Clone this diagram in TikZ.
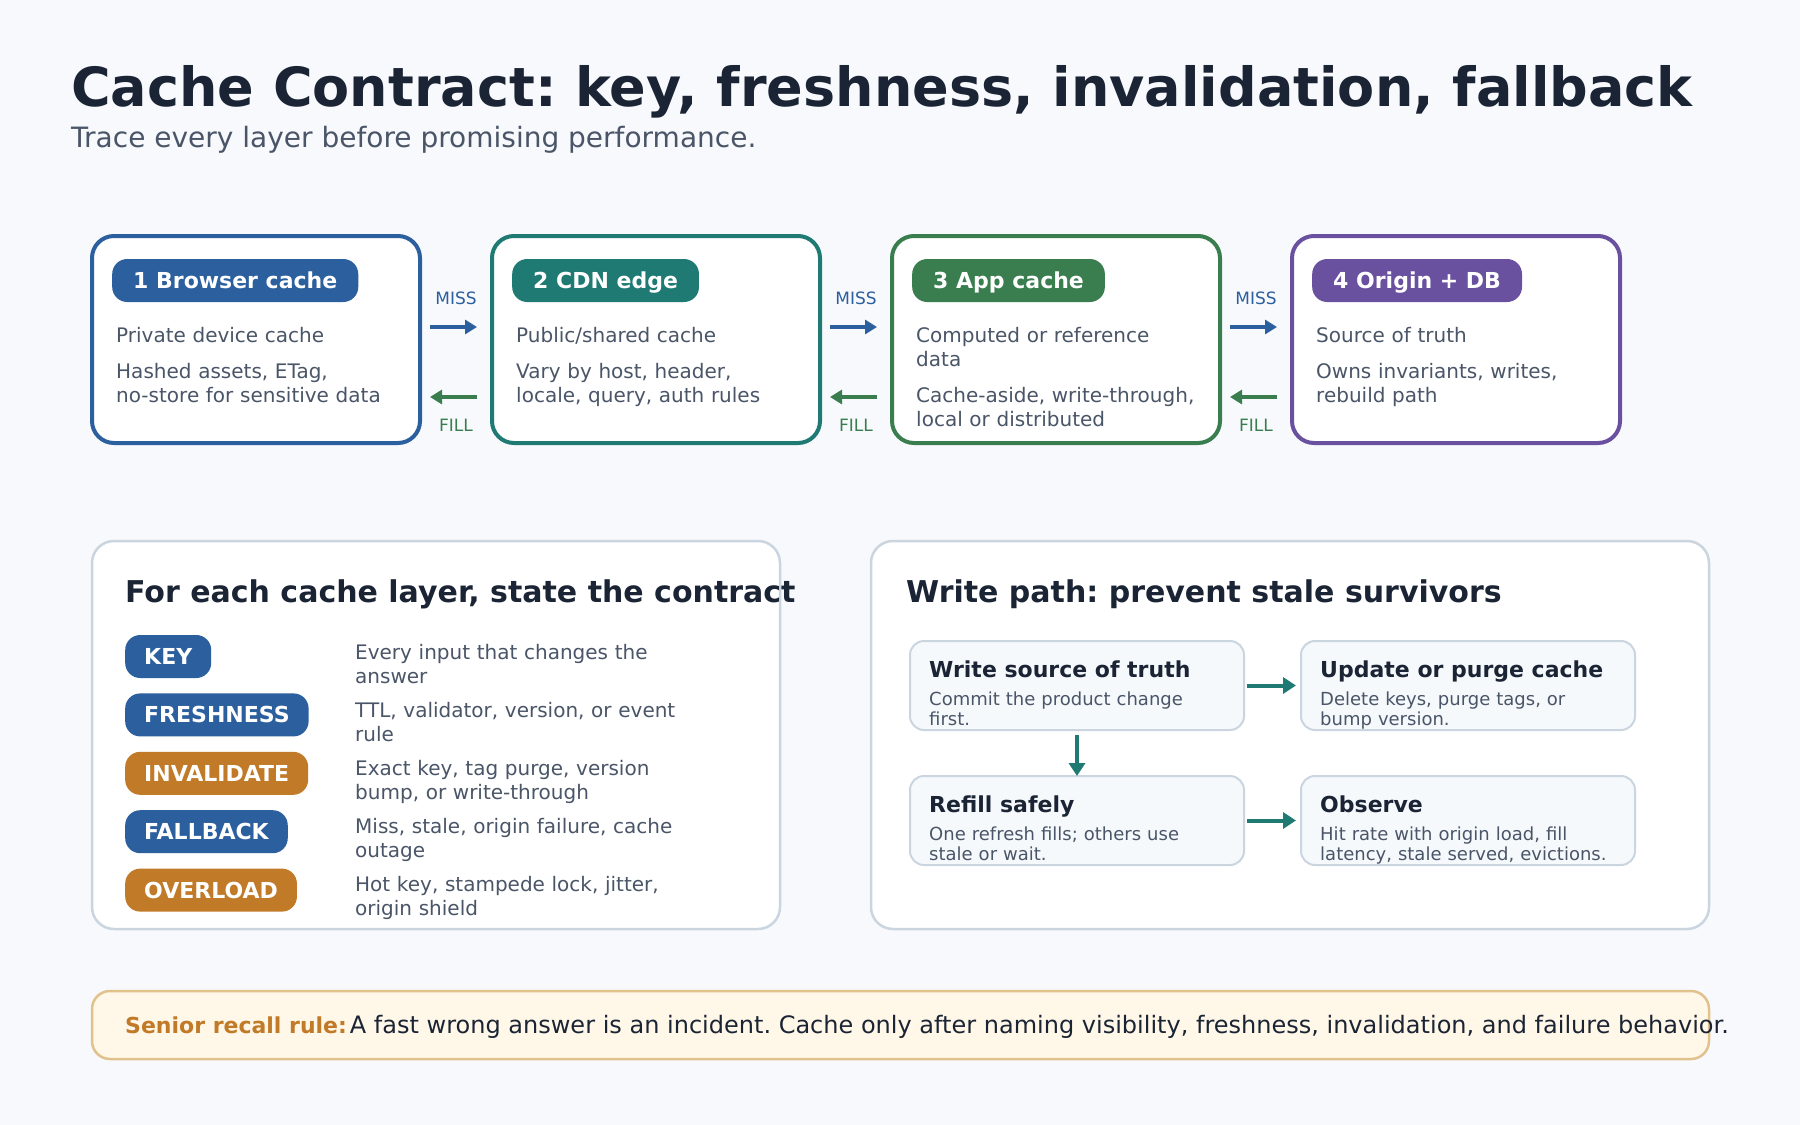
\documentclass[tikz,border=0pt]{standalone}
\usepackage{fontspec}
\setmainfont{DejaVu Sans}
\usetikzlibrary{arrows.meta}
\usetikzlibrary{positioning}
\frenchspacing
\definecolor{bgc}{HTML}{F7F9FC}
\definecolor{inkc}{HTML}{1B2434}
\definecolor{grayc}{HTML}{4A5568}
\definecolor{linec}{HTML}{CBD5E0}
\definecolor{bluec}{HTML}{2C5F9E}
\definecolor{tealc}{HTML}{1F7A73}
\definecolor{greenc}{HTML}{3A7D4F}
\definecolor{purplec}{HTML}{6A51A0}
\definecolor{orangec}{HTML}{C17A27}
\definecolor{wfillc}{HTML}{F6F9FC}
\definecolor{creamc}{HTML}{FFF8E8}
\definecolor{tanc}{HTML}{E2C28C}
\tikzset{
layer/.style = {draw=#1, line width=4pt, fill=white, rounded corners=22pt,
                minimum width=328pt, minimum height=207pt, inner sep=0pt, outer sep=0pt},
pill/.style = {fill=#1, text=white, rounded corners=15pt, minimum height=43pt,
               inner xsep=21pt, inner ysep=0pt, text height=16pt, text depth=0pt,
               font=\fontsize{22}{26}\selectfont\bfseries, anchor=west},
body/.style = {text=grayc, font=\fontsize{20}{24}\selectfont, text width=310pt,
               align=left, inner sep=0pt, anchor=base west},
missarr/.style = {draw=bluec, line width=4pt, -{Triangle[length=12pt,width=14pt]},
                  shorten <=10pt, shorten >=15pt},
fillarr/.style = {draw=greenc, line width=4pt, -{Triangle[length=12pt,width=14pt]},
                  shorten <=15pt, shorten >=10pt},
misslbl/.style = {text=bluec, font=\fontsize{17}{20}\selectfont, inner sep=0pt,
                  anchor=base, yshift=23pt},
filllbl/.style = {text=greenc, font=\fontsize{17}{20}\selectfont, inner sep=0pt,
                  anchor=base, yshift=-34pt},
panel/.style = {draw=linec, line width=2.5pt, fill=white, rounded corners=22pt,
                inner sep=0pt, outer sep=0pt, anchor=north west},
heading/.style = {text=inkc, font=\fontsize{30}{34}\selectfont\bfseries,
                  inner sep=0pt, anchor=base west},
tag/.style = {fill=#1, text=white, rounded corners=15pt, minimum height=43pt,
              inner xsep=19pt, inner ysep=0pt, text height=16pt, text depth=0pt,
              font=\fontsize{22}{26}\selectfont\bfseries, anchor=west},
desc/.style = {text=grayc, font=\fontsize{20}{24}\selectfont, text width=330pt,
               align=left, inner sep=0pt, anchor=base west},
wbox/.style = {draw=linec, line width=2pt, fill=wfillc, rounded corners=14pt,
               minimum width=334pt, minimum height=89pt, inner sep=0pt, outer sep=0pt},
wtitle/.style = {text=inkc, font=\fontsize{22}{26}\selectfont\bfseries,
                 inner sep=0pt, anchor=base west},
wtext/.style = {text=grayc, font=\fontsize{18}{20}\selectfont, text width=310pt,
                align=left, inner sep=0pt, anchor=base west},
warr/.style = {draw=tealc, line width=4pt, -{Triangle[length=13pt,width=16pt]}},
}

\begin{document}
\begin{tikzpicture}[x=1pt, y=-1pt]
% page
\fill[bgc] (0,0) rectangle (1800,1125);
\useasboundingbox (0,0) rectangle (1800,1125);

% title
\node[inner sep=0pt, anchor=base west, text=inkc,
      font=\fontsize{54}{60}\selectfont\bfseries] (title) at (71,106)
      {Cache Contract: key, freshness, invalidation, fallback};
\node[inner sep=0pt, anchor=base west, text=grayc,
      font=\fontsize{28}{32}\selectfont] (subtitle) at (71,147)
      {Trace every layer before promising performance.};

% cache layers
\node[layer=bluec, anchor=north west] (b1) at (92,236) {};
\node[layer=tealc, right=72pt of b1] (b2) {};
\node[layer=greenc, right=72pt of b2] (b3) {};
\node[layer=purplec, right=72pt of b3] (b4) {};

\node[pill=bluec] (t1) at ([xshift=20pt, yshift=-44.5pt]b1.north west) {1 Browser cache};
\node[pill=tealc] (t2) at ([xshift=20pt, yshift=-44.5pt]b2.north west) {2 CDN edge};
\node[pill=greenc] (t3) at ([xshift=20pt, yshift=-44.5pt]b3.north west) {3 App cache};
\node[pill=purplec] (t4) at ([xshift=20pt, yshift=-44.5pt]b4.north west) {4 Origin + DB};

\node[body] (d1) at ([xshift=24pt, yshift=-106pt]b1.north west)
      {Private device cache\\[12pt]Hashed assets, ETag,\\no-store for sensitive data};
\node[body] (d2) at ([xshift=24pt, yshift=-106pt]b2.north west)
      {Public/shared cache\\[12pt]Vary by host, header,\\locale, query, auth rules};
\node[body] (d3) at ([xshift=24pt, yshift=-106pt]b3.north west)
      {Computed or reference\\data\\[12pt]Cache-aside, write-through,\\local or distributed};
\node[body] (d4) at ([xshift=24pt, yshift=-106pt]b4.north west)
      {Source of truth\\[12pt]Owns invariants, writes,\\rebuild path};

\path
([yshift=12.5pt]b1.east) edge[missarr] node[misslbl] {MISS} ([yshift=12.5pt]b2.west)
([yshift=12.5pt]b2.east) edge[missarr] node[misslbl] {MISS} ([yshift=12.5pt]b3.west)
([yshift=12.5pt]b3.east) edge[missarr] node[misslbl] {MISS} ([yshift=12.5pt]b4.west)
([yshift=-57.5pt]b2.west) edge[fillarr] node[filllbl] {FILL} ([yshift=-57.5pt]b1.east)
([yshift=-57.5pt]b3.west) edge[fillarr] node[filllbl] {FILL} ([yshift=-57.5pt]b2.east)
([yshift=-57.5pt]b4.west) edge[fillarr] node[filllbl] {FILL} ([yshift=-57.5pt]b3.east);

% contract panel
\node[panel, minimum width=688pt, minimum height=388pt] (contract) at (92,541) {};
\node[heading] (chead) at (125,602) {For each cache layer, state the contract};

\node[tag=bluec] (k1) at (125,656.5) {KEY};
\node[tag=bluec, below=15pt of k1.south west, anchor=north west] (k2) {FRESHNESS};
\node[tag=orangec, below=15pt of k2.south west, anchor=north west] (k3) {INVALIDATE};
\node[tag=bluec, below=15pt of k3.south west, anchor=north west] (k4) {FALLBACK};
\node[tag=orangec, below=15pt of k4.south west, anchor=north west] (k5) {OVERLOAD};

\node[desc] (kd1) at (355,659) {Every input that changes the\\answer};
\node[desc] (kd2) at (355,717) {TTL, validator, version, or event\\rule};
\node[desc] (kd3) at (355,775) {Exact key, tag purge, version\\bump, or write-through};
\node[desc] (kd4) at (355,833) {Miss, stale, origin failure, cache\\outage};
\node[desc] (kd5) at (355,891) {Hot key, stampede lock, jitter,\\origin shield};

% write path panel
\node[panel, minimum width=838pt, minimum height=388pt] (write) at (871,541) {};
\node[heading] (whead) at (906,602) {Write path: prevent stale survivors};

\node[wbox, anchor=north west] (w1) at (910,641) {};
\node[wbox, right=57pt of w1] (w2) {};
\node[wbox, below=46pt of w1] (w3) {};
\node[wbox, right=57pt of w3] (w4) {};

\node[wtitle] (w1t) at ([xshift=19pt, yshift=-36pt]w1.north west) {Write source of truth};
\node[wtext] (w1s) at ([xshift=19pt, yshift=-64pt]w1.north west) {Commit the product change\\first.};
\node[wtitle] (w2t) at ([xshift=19pt, yshift=-36pt]w2.north west) {Update or purge cache};
\node[wtext] (w2s) at ([xshift=19pt, yshift=-64pt]w2.north west) {Delete keys, purge tags, or\\bump version.};
\node[wtitle] (w3t) at ([xshift=19pt, yshift=-36pt]w3.north west) {Refill safely};
\node[wtext] (w3s) at ([xshift=19pt, yshift=-64pt]w3.north west) {One refresh fills; others use\\stale or wait.};
\node[wtitle] (w4t) at ([xshift=19pt, yshift=-36pt]w4.north west) {Observe};
\node[wtext] (w4s) at ([xshift=19pt, yshift=-64pt]w4.north west) {Hit rate with origin load, fill\\latency, stale served, evictions.};

\draw[warr, shorten <=3pt, shorten >=5pt] (w1) -- (w2);
\draw[warr, shorten <=3pt, shorten >=5pt] (w3) -- (w4);
\draw[warr, shorten <=5pt] (w1) -- (w3);

% recall rule
\node[panel, draw=tanc, fill=creamc, rounded corners=18pt,
      minimum width=1617pt, minimum height=68pt] (rule) at (92,991) {};
\node[inner sep=0pt, anchor=base west, text=inkc, font=\fontsize{24}{28}\selectfont]
      (ruletext) at (125,1033)
      {{\fontsize{22}{26}\selectfont\color{orangec}\bfseries Senior recall rule:}\hspace{3pt}A fast wrong answer is an incident. Cache only after naming visibility, freshness, invalidation, and failure behavior.};
\end{tikzpicture}
\end{document}
